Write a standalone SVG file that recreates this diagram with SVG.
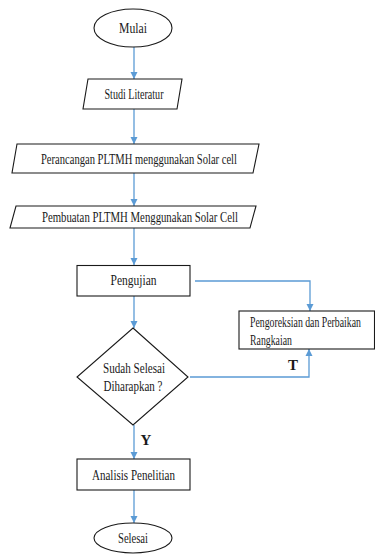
<svg xmlns="http://www.w3.org/2000/svg" width="375" height="554" viewBox="0 0 375 554">
<style>
.shape{fill:#fff;stroke:#1a1a1a;stroke-width:1.1}
.conn{fill:none;stroke:#5B9BD5;stroke-width:1.3}
text{font-family:"Liberation Serif","Times New Roman",serif;font-size:14px;fill:#1a1a1a}
.c{text-anchor:middle}
.b{font-weight:bold;font-size:15px}
</style>
<defs>
<marker id="ah" viewBox="0 0 10 10" refX="10" refY="5" markerWidth="7" markerHeight="8" markerUnits="userSpaceOnUse" orient="auto">
<path d="M0,0 L10,5 L0,10 z" fill="#5B9BD5"/>
</marker>
</defs>
<rect width="375" height="554" fill="#fff"/>
<g id="connectors">
<line class="conn" x1="134" y1="47" x2="134" y2="79" marker-end="url(#ah)"/>
<line class="conn" x1="134" y1="109" x2="134" y2="144" marker-end="url(#ah)"/>
<line class="conn" x1="134" y1="173" x2="134" y2="206" marker-end="url(#ah)"/>
<line class="conn" x1="134" y1="228" x2="134" y2="265" marker-end="url(#ah)"/>
<line class="conn" x1="134" y1="296" x2="134" y2="328" marker-end="url(#ah)"/>
<polyline class="conn" points="195,281 310,281 310,311" marker-end="url(#ah)"/>
<polyline class="conn" points="190,377 309,377 309,349" marker-end="url(#ah)"/>
<line class="conn" x1="134" y1="425" x2="134" y2="459" marker-end="url(#ah)"/>
<line class="conn" x1="134" y1="490" x2="134" y2="523" marker-end="url(#ah)"/>
<text class="b c" x="293" y="370">T</text>
<text class="b c" x="146" y="445">Y</text>
</g>
<g id="mulai">
<ellipse class="shape" cx="133" cy="28" rx="39" ry="19"/>
<text class="c" x="133" y="33" textLength="28" lengthAdjust="spacingAndGlyphs">Mulai</text>
</g>
<g id="studi">
<polygon class="shape" points="88,79 182,79 177,109 83,109"/>
<text class="c" x="134" y="99" textLength="59" lengthAdjust="spacingAndGlyphs">Studi Literatur</text>
</g>
<g id="perancangan">
<polygon class="shape" points="17,144 259,144 253,173 12,173"/>
<text class="c" x="139" y="163.5" textLength="196" lengthAdjust="spacingAndGlyphs">Perancangan PLTMH menggunakan Solar cell</text>
</g>
<g id="pembuatan">
<polygon class="shape" points="16,206 256,206 250,228 10,228"/>
<text class="c" x="140" y="222" textLength="196" lengthAdjust="spacingAndGlyphs">Pembuatan PLTMH Menggunakan Solar Cell</text>
</g>
<g id="pengujian">
<rect class="shape" x="77" y="265.5" width="113" height="30.5"/>
<text class="c" x="133.5" y="284.5" textLength="46" lengthAdjust="spacingAndGlyphs">Pengujian</text>
</g>
<g id="pengoreksian">
<rect class="shape" x="239" y="311" width="135.5" height="38"/>
<text transform="translate(250,327) scale(0.70,1)">Pengoreksian dan Perbaikan</text>
<text transform="translate(250,344.5) scale(0.70,1)">Rangkaian</text>
</g>
<g id="keputusan">
<polygon class="shape" points="133,328 188,377 133,425 77,377"/>
<text class="c" x="134" y="372.5" textLength="62" lengthAdjust="spacingAndGlyphs">Sudah Selesai</text>
<text class="c" x="133" y="390.5" textLength="59" lengthAdjust="spacingAndGlyphs">Diharapkan ?</text>
</g>
<g id="analisis">
<rect class="shape" x="77" y="459" width="113" height="31"/>
<text class="c" x="133.5" y="479.5" textLength="83" lengthAdjust="spacingAndGlyphs">Analisis Penelitian</text>
</g>
<g id="selesai">
<ellipse class="shape" cx="133" cy="538" rx="39" ry="15"/>
<text class="c" x="133" y="543" textLength="30" lengthAdjust="spacingAndGlyphs">Selesai</text>
</g>
</svg>
